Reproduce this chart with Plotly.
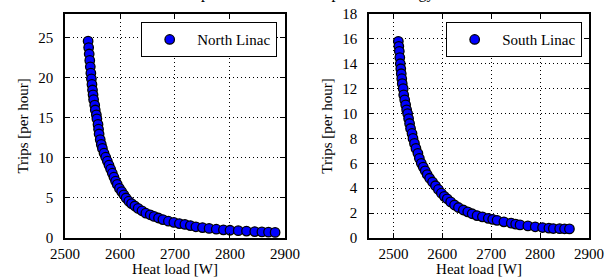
import plotly.graph_objects as go

north_heat = [2542, 2543, 2544, 2545, 2546, 2547, 2548, 2549, 2550, 2551, 2552, 2554, 2555, 2557, 2558,
              2560, 2561, 2562, 2564, 2566, 2568, 2571, 2574, 2577, 2580, 2583, 2586, 2589, 2592, 2595,
              2599, 2603, 2607, 2611, 2616, 2621, 2627, 2633, 2640, 2647, 2655, 2662, 2670, 2678, 2688,
              2698, 2708, 2718, 2728, 2738, 2750, 2762, 2775, 2788, 2800, 2815, 2830, 2845, 2858, 2870, 2882]
north_trips = [24.6, 23.8, 23.0, 22.2, 21.4, 20.6, 19.9, 19.2, 18.5, 17.9, 17.3, 16.6, 16.0, 15.4, 14.9,
               14.2, 13.6, 13.0, 12.3, 11.7, 11.2, 10.6, 10.1, 9.6, 9.1, 8.6, 8.1, 7.6, 7.1, 6.7,
               6.2, 5.8, 5.4, 5.0, 4.6, 4.3, 4.0, 3.7, 3.4, 3.1, 2.9, 2.7, 2.5, 2.3, 2.1,
               1.95, 1.8, 1.7, 1.55, 1.4, 1.3, 1.2, 1.1, 1.02, 0.97, 0.92, 0.86, 0.8, 0.76, 0.73, 0.7]

south_heat = [2510, 2511, 2512, 2513, 2514, 2515, 2516, 2517, 2518, 2520, 2521, 2523, 2525, 2527, 2529,
              2531, 2533, 2535, 2538, 2540, 2543, 2546, 2550, 2553, 2557, 2561, 2565, 2569, 2574, 2580,
              2586, 2592, 2598, 2604, 2610, 2617, 2625, 2633, 2643, 2652, 2661, 2671, 2682, 2694, 2703,
              2712, 2726, 2741, 2750, 2759, 2775, 2790, 2805, 2818, 2827, 2840, 2850, 2860]
south_trips = [15.8, 15.4, 15.0, 14.5, 14.0, 13.6, 13.2, 12.8, 12.4, 12.0, 11.5, 11.1, 10.7, 10.3, 10.0,
               9.6, 9.2, 8.8, 8.4, 8.0, 7.6, 7.2, 6.8, 6.4, 6.0, 5.7, 5.4, 5.1, 4.8, 4.5,
               4.2, 3.9, 3.6, 3.35, 3.15, 2.9, 2.65, 2.45, 2.25, 2.1, 1.95, 1.8, 1.7, 1.58, 1.5,
               1.42, 1.3, 1.2, 1.12, 1.05, 0.97, 0.9, 0.84, 0.79, 0.76, 0.75, 0.74, 0.73]

x_ticks = [2500, 2600, 2700, 2800, 2900]
north_yticks = [0, 5, 10, 15, 20, 25]
south_yticks = [0, 2, 4, 6, 8, 10, 12, 14, 16, 18]

FONT = "Liberation Serif"
marker = dict(color="#0000ff", size=9.5, line=dict(color="black", width=1.3))

fig = go.Figure()
fig.add_trace(go.Scatter(x=north_heat, y=north_trips, mode="markers", marker=marker,
                         name="North Linac", xaxis="x", yaxis="y", legend="legend"))
fig.add_trace(go.Scatter(x=south_heat, y=south_trips, mode="markers", marker=marker,
                         name="South Linac", xaxis="x2", yaxis="y2", legend="legend2"))

ax_common = dict(showline=True, linecolor="black", linewidth=1.5, mirror="allticks",
                 ticks="inside", ticklen=5, tickwidth=1, tickcolor="black",
                 showgrid=True, gridcolor="black", griddash="1px,3px", gridwidth=1,
                 zeroline=False, automargin=False,
                 tickfont=dict(family=FONT, size=15, color="black"))

legend_common = dict(bgcolor="white", bordercolor="black", borderwidth=1.2,
                     font=dict(family=FONT, size=15, color="black"),
                     xanchor="right", yanchor="top", itemwidth=45)

title_font = dict(family=FONT, size=15, color="black")

fig.update_layout(
    width=615, height=277,
    margin=dict(l=0, r=0, t=0, b=0),
    paper_bgcolor="white", plot_bgcolor="white",
    showlegend=True,
    xaxis=dict(domain=[0.1057, 0.4634], range=[2500, 2900], tickvals=x_ticks,
               title=dict(text="Heat load [W]", font=title_font, standoff=0),
               anchor="y", ticklabelstandoff=1, **ax_common),
    yaxis=dict(domain=[0.1408, 0.9495], range=[0, 28], tickvals=north_yticks,
               title=dict(text="Trips [per hour]", font=title_font, standoff=6),
               anchor="x", ticklabelstandoff=7, **ax_common),
    xaxis2=dict(domain=[0.6, 0.9577], range=[2450, 2900], tickvals=x_ticks,
                title=dict(text="Heat load [W]", font=title_font, standoff=0),
                anchor="y2", ticklabelstandoff=1, **ax_common),
    yaxis2=dict(domain=[0.1408, 0.9495], range=[0, 18], tickvals=south_yticks,
                title=dict(text="Trips [per hour]", font=title_font, standoff=6),
                anchor="x2", ticklabelstandoff=7, **ax_common),
    legend=dict(x=0.4504, y=0.9206, **legend_common),
    legend2=dict(x=0.9463, y=0.9206, **legend_common),
    annotations=[dict(text="Trip rates vs. heat load per linac energy", xref="paper", yref="paper",
                      x=0.5, y=0.985, xanchor="center", yanchor="bottom", showarrow=False,
                      font=dict(family=FONT, size=16, color="black"))],
)

fig.write_html("out.html", config={"displayModeBar": False},
               post_script="document.body.style.margin='0';")
